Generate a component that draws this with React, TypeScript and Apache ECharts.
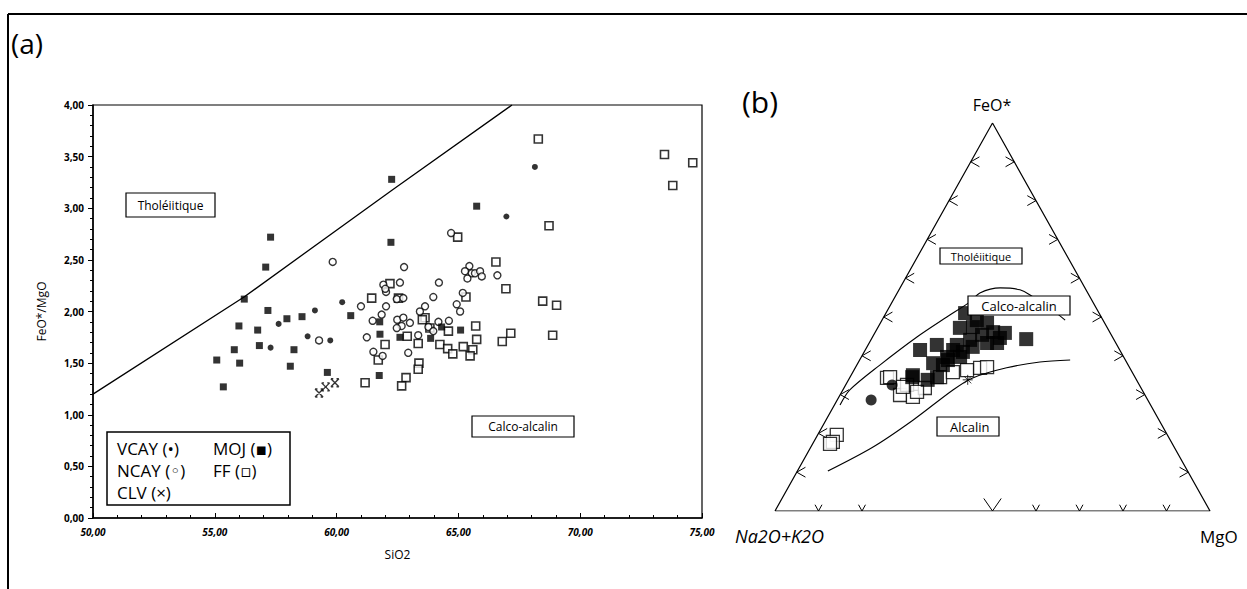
import React, { useEffect, useRef } from "react";
import * as echarts from "echarts";

// ---------- Panel (a): FeO*/MgO vs SiO2 ----------
const xTicksA = [50, 55, 60, 65, 70, 75];
const yTicksA = [0, 0.5, 1, 1.5, 2, 2.5, 3, 3.5, 4];

const tholSiO2 = [50, 56.2, 62.3, 67.2];
const tholRatio = [1.2, 2.14, 3.18, 4.0];

const vcayA = [
  [57.62, 1.88], [57.29, 1.65], [59.11, 2.01], [58.81, 1.76], [59.74, 1.72],
  [60.23, 2.09], [68.14, 3.4], [66.97, 2.92],
];
const ncayA = [
  [59.84, 2.48], [59.28, 1.72], [61.0, 2.05], [61.24, 1.75], [61.51, 1.61], [61.85, 1.97],
  [61.48, 1.91], [61.92, 2.26], [62.03, 2.19], [62.03, 2.05], [61.89, 1.57], [62.77, 2.43],
  [62.6, 2.28], [62.47, 2.12], [62.74, 2.13], [64.2, 2.28], [63.97, 2.14], [65.45, 2.44],
  [65.27, 2.39], [65.55, 2.37], [65.37, 2.32], [65.68, 2.37], [65.89, 2.39], [65.96, 2.34],
  [66.6, 2.35], [65.18, 2.18], [64.93, 2.07], [65.07, 2.0], [63.63, 2.05], [63.42, 2.0],
  [62.49, 1.92], [62.74, 1.94], [63.01, 1.89], [62.67, 1.86], [62.47, 1.84], [63.77, 1.85],
  [63.97, 1.81], [64.18, 1.9], [64.61, 1.91], [63.35, 1.77], [62.94, 1.6], [64.7, 2.76],
  [62.0, 2.22],
];
const mojA = [
  [57.09, 2.43], [57.29, 2.72], [56.21, 2.12], [57.18, 2.01], [55.99, 1.86], [56.76, 1.82],
  [57.96, 1.93], [58.58, 1.95], [55.8, 1.63], [56.83, 1.67], [55.08, 1.53], [56.02, 1.5],
  [58.25, 1.63], [58.1, 1.47], [55.35, 1.27], [59.62, 1.41], [60.58, 1.96], [61.77, 1.9],
  [61.78, 1.78], [61.75, 1.38], [62.26, 3.28], [62.23, 2.67], [65.75, 3.02], [65.09, 1.82],
  [64.31, 1.85], [62.6, 1.75], [63.86, 1.74],
];
const ffA = [
  [62.19, 2.27], [62.54, 2.13], [63.63, 1.94], [63.52, 1.92], [63.83, 1.84], [64.59, 1.81],
  [65.31, 2.14], [66.95, 2.22], [68.46, 2.1], [69.03, 2.06], [65.71, 1.86], [65.75, 1.73],
  [67.15, 1.79], [66.8, 1.71], [68.87, 1.77], [62.9, 1.76], [61.99, 1.68], [63.35, 1.69],
  [64.24, 1.68], [64.56, 1.64], [64.77, 1.59], [65.2, 1.66], [65.59, 1.63], [65.48, 1.57],
  [63.38, 1.5], [63.35, 1.44], [62.85, 1.36], [62.67, 1.28], [61.44, 2.13], [61.71, 1.53],
  [61.17, 1.31], [68.28, 3.67], [68.72, 2.83], [64.97, 2.72], [73.46, 3.52], [74.62, 3.44],
  [73.8, 3.22], [66.54, 2.48],
];
const clvA = [[59.28, 1.21], [59.55, 1.27], [59.93, 1.31]];

// ---------- Panel (b): AFM ternary, values as [Na2O+K2O, FeO*, MgO] ----------
const mojB = [
  [30.8, 51.0, 18.2], [33.9, 47.2, 18.9], [30.8, 47.4, 21.8], [26.8, 46.1, 27.1], [24.2, 45.9, 29.9],
  [20.1, 44.3, 35.6], [41.4, 42.8, 15.8], [45.9, 41.5, 12.6], [38.3, 41.5, 20.2], [33.4, 42.3, 24.3],
  [29.6, 43.3, 27.1], [27.3, 43.3, 29.4], [40.8, 38.9, 20.3], [37.6, 39.7, 22.7], [44.6, 38.1, 17.3],
  [50.8, 35.0, 14.2], [48.0, 33.8, 18.2], [29.0, 49.2, 21.8], [27.0, 48.5, 24.5], [29.7, 45.4, 24.9],
  [33.1, 44.1, 22.8], [36.8, 42.8, 20.4], [40.6, 39.7, 19.7], [36.3, 41.0, 22.7], [42.6, 37.6, 19.8],
  [51.2, 34.5, 14.3], [45.5, 34.5, 20.0], [26.0, 44.6, 29.4],
];
const ffB = [
  [57.1, 34.3, 8.6], [56.3, 29.9, 13.8], [53.6, 29.4, 17.0], [49.7, 31.7, 18.6], [44.8, 34.5, 20.7],
  [41.2, 35.8, 23.0], [37.7, 36.3, 26.0], [34.4, 36.9, 28.7], [32.7, 37.1, 30.2], [76.0, 19.6, 4.4],
  [77.8, 17.8, 4.4], [78.7, 17.3, 4.0], [53.4, 32.5, 14.1], [56.3, 34.5, 9.2], [54.6, 32.0, 13.4],
  [52.0, 30.7, 17.3],
];
const vcayB = [[63.6, 28.6, 7.8], [56.9, 32.5, 10.7]];
const clvB = [[38.8, 33.8, 27.4]];

const upperCurve = [
  [71.4, 27.3, 1.3], [67.2, 31.2, 1.6], [57.1, 37.6, 5.3], [44.9, 44.8, 10.2], [35.5, 50.0, 14.5],
  [28.2, 53.9, 17.9], [24.8, 56.2, 19.0], [19.5, 57.5, 23.0], [15.2, 57.0, 27.8], [13.1, 55.2, 31.7],
  [10.6, 52.3, 37.1], [8.7, 49.2, 42.1],
];
const lowerCurve = [
  [82.7, 10.3, 7.0], [69.2, 16.5, 14.3], [56.6, 23.4, 20.0], [43.5, 31.2, 25.3], [37.4, 34.3, 28.3],
  [28.3, 36.9, 34.8], [19.9, 38.4, 41.7], [12.7, 38.9, 48.4],
];
const sideTicks = [10, 20, 30, 40, 50, 60, 70, 80, 90];
const baseTicks = [10, 20, 50, 60, 70, 80, 90];

const H = Math.sqrt(3) / 2;
const toXY = (p: number[]) => {
  const s = p[0] + p[1] + p[2];
  const F = (p[1] / s) * 100;
  const M = (p[2] / s) * 100;
  return [M + F / 2, F * H];
};

const fmt = (v: number) => v.toFixed(2).replace(".", ",");
const FONT = '"Open Sans", "DejaVu Sans", sans-serif';

function buildOption() {
  const chevrons: number[][][] = [];
  baseTicks.forEach((t) => {
    const big = t === 50;
    const dx = big ? 2 : 0.8;
    const dy = big ? 2.8 : 1.4;
    chevrons.push([[t - dx, dy], [t, 0], [t + dx, dy]]);
  });
  sideTicks.forEach((t) => {
    const lx = t / 2, ly = t * H;
    chevrons.push([[lx + 2, ly + 1.1], [lx, ly], [lx + 2, ly - 1.1]]);
    const rx = 100 - t / 2, ry = t * H;
    chevrons.push([[rx - 2, ry + 1.1], [rx, ry], [rx - 2, ry - 1.1]]);
  });
  const tri = [[0, 0], [100, 0], [50, 100 * H], [0, 0]];

  const label = (x: number, y: number, w: number, h: number, text: string, size: number, tx?: number) => [
    { type: "rect", z: 100, shape: { x, y, width: w, height: h }, style: { fill: "#fff", stroke: "#000", lineWidth: 1.2 } },
    {
      type: "text", z: 101, x: tx !== undefined ? tx : x + w / 2, y: y + h / 2,
      style: { text, fill: "#000", font: `${size}px ${FONT}`, textAlign: tx !== undefined ? "left" : "center", textVerticalAlign: "middle" },
    },
  ];
  const txt = (x: number, y: number, text: string, size: number, align = "left", style = "normal") => ({
    type: "text", z: 101, x, y,
    style: { text, fill: "#000", font: `${style} ${size}px ${FONT}`, textAlign: align, textVerticalAlign: "middle" },
  });

  return {
    animation: false,
    backgroundColor: "#fff",
    textStyle: { fontFamily: FONT, color: "#000" },
    grid: [
      { left: 93, top: 105, width: 609, height: 413, show: true, borderColor: "#000", borderWidth: 1.2, backgroundColor: "transparent" },
      { left: 775, top: 123, width: 435, height: 388 },
    ],
    xAxis: [
      {
        gridIndex: 0, type: "value", min: xTicksA[0], max: xTicksA[xTicksA.length - 1], interval: 5,
        name: "SiO2", nameLocation: "middle", nameGap: 30,
        nameTextStyle: { fontSize: 12, color: "#000", fontFamily: FONT },
        axisLine: { lineStyle: { color: "#000", width: 1.5 } },
        axisTick: { inside: true, length: 5, lineStyle: { color: "#000" } },
        minorTick: { show: true, splitNumber: 5, length: 3, lineStyle: { color: "#000" } },
        splitLine: { show: false },
        axisLabel: { formatter: fmt, fontSize: 10, fontWeight: "bold", fontStyle: "italic", color: "#000", margin: 9 },
      },
      { gridIndex: 1, type: "value", min: 0, max: 100, show: false },
    ],
    yAxis: [
      {
        gridIndex: 0, type: "value", min: yTicksA[0], max: yTicksA[yTicksA.length - 1], interval: 0.5,
        name: "FeO*/MgO", nameLocation: "middle", nameGap: 46,
        nameTextStyle: { fontSize: 12, color: "#000", fontFamily: FONT },
        axisLine: { lineStyle: { color: "#000", width: 1.5 } },
        axisTick: { inside: false, length: 5, lineStyle: { color: "#000" } },
        minorTick: { show: true, splitNumber: 5, length: 3, lineStyle: { color: "#000" } },
        splitLine: { show: false },
        axisLabel: { formatter: fmt, fontSize: 10, fontWeight: "bold", color: "#000", margin: 9 },
      },
      { gridIndex: 1, type: "value", min: 0, max: 100 * H, show: false },
    ],
    series: [
      {
        type: "line", xAxisIndex: 0, yAxisIndex: 0, silent: true, symbol: "none",
        data: tholSiO2.map((x, i) => [x, tholRatio[i]]),
        lineStyle: { color: "#000", width: 1.3 },
      },
      {
        name: "FF", type: "scatter", xAxisIndex: 0, yAxisIndex: 0, data: ffA, symbol: "rect", symbolSize: 8,
        itemStyle: { color: "#fff", borderColor: "#000", borderWidth: 1.6 },
      },
      {
        name: "NCAY", type: "scatter", xAxisIndex: 0, yAxisIndex: 0, data: ncayA, symbol: "circle", symbolSize: 7,
        itemStyle: { color: "#fff", borderColor: "#000", borderWidth: 1.4 },
      },
      {
        name: "MOJ", type: "scatter", xAxisIndex: 0, yAxisIndex: 0, data: mojA, symbol: "rect", symbolSize: 7,
        itemStyle: { color: "#000" },
      },
      {
        name: "VCAY", type: "scatter", xAxisIndex: 0, yAxisIndex: 0, data: vcayA, symbol: "circle", symbolSize: 6,
        itemStyle: { color: "#000" },
      },
      {
        name: "CLV", type: "scatter", xAxisIndex: 0, yAxisIndex: 0, data: clvA,
        symbol: "path://M0,0L10,10M10,0L0,10M0,0L3,0M7,0L10,0M0,10L3,10M7,10L10,10", symbolSize: 8,
        itemStyle: { color: "transparent", borderColor: "#000", borderWidth: 1.4 },
      },
      // ternary frame
      {
        type: "line", xAxisIndex: 1, yAxisIndex: 1, silent: true, symbol: "none", data: tri,
        lineStyle: { color: "#000", width: 1.2 },
      },
      {
        type: "lines", coordinateSystem: "cartesian2d", xAxisIndex: 1, yAxisIndex: 1, polyline: true, silent: true,
        data: chevrons.map((c) => ({ coords: c })),
        lineStyle: { color: "#000", width: 1, opacity: 1 },
      },
      {
        type: "line", xAxisIndex: 1, yAxisIndex: 1, silent: true, symbol: "none", smooth: 0.3,
        data: upperCurve.map(toXY), lineStyle: { color: "#000", width: 1.1 },
      },
      {
        type: "line", xAxisIndex: 1, yAxisIndex: 1, silent: true, symbol: "none", smooth: 0.3,
        data: lowerCurve.map(toXY), lineStyle: { color: "#000", width: 1.1 },
      },
      {
        name: "FF b", type: "scatter", xAxisIndex: 1, yAxisIndex: 1, data: ffB.map(toXY), symbol: "rect", symbolSize: 13,
        itemStyle: { color: "#fff", borderColor: "#000", borderWidth: 1.3 },
      },
      {
        name: "MOJ b", type: "scatter", xAxisIndex: 1, yAxisIndex: 1, data: mojB.map(toXY), symbol: "rect", symbolSize: 14,
        itemStyle: { color: "#000" },
      },
      {
        name: "VCAY b", type: "scatter", xAxisIndex: 1, yAxisIndex: 1, data: vcayB.map(toXY), symbol: "circle", symbolSize: 11,
        itemStyle: { color: "#000" },
      },
      {
        name: "CLV b", type: "scatter", xAxisIndex: 1, yAxisIndex: 1, data: clvB.map(toXY),
        symbol: "path://M5,0L5,10M0,5L10,5M1.5,1.5L8.5,8.5M8.5,1.5L1.5,8.5", symbolSize: 10,
        itemStyle: { color: "transparent", borderColor: "#000", borderWidth: 1 },
      },
    ],
    graphic: [
      { type: "line", shape: { x1: 8, y1: 14, x2: 1247, y2: 14 }, style: { stroke: "#000", lineWidth: 2 } },
      { type: "line", shape: { x1: 8, y1: 14, x2: 8, y2: 589 }, style: { stroke: "#000", lineWidth: 2 } },
      txt(11, 43, "(a)", 28),
      txt(742, 101, "(b)", 30),
      ...label(126, 193, 89, 24, "Tholéiitique", 12),
      ...label(472, 416, 102, 21, "Calco-alcalin", 12),
      { type: "rect", z: 100, shape: { x: 107, y: 432, width: 183, height: 73 }, style: { fill: "#fff", stroke: "#000", lineWidth: 1.5 } },
      txt(117, 448, "VCAY (•)", 17),
      txt(213, 448, "MOJ (▪)", 17),
      txt(117, 470, "NCAY (◦)", 17),
      txt(213, 470, "FF (▫)", 17),
      txt(117, 492, "CLV (×)", 17),
      txt(992, 105, "FeO*", 16, "center"),
      txt(735, 536, "Na2O+K2O", 18, "left", "italic"),
      txt(1200, 536, "MgO", 17),
      ...label(940, 248, 82, 16, "Tholéiitique", 11),
      ...label(968, 296, 102, 19, "Calco-alcalin", 13),
      ...label(937, 417, 62, 19, "Alcalin", 13, 950),
    ],
  };
}

export default function App() {
  const ref = useRef<HTMLDivElement>(null);
  useEffect(() => {
    if (!ref.current) return;
    const chart = echarts.init(ref.current, null, { renderer: "svg" });
    chart.setOption(buildOption() as any);
    return () => chart.dispose();
  }, []);
  return (
    <div
      ref={ref}
      style={{ position: "fixed", left: 0, top: 0, width: 1247, height: 589, background: "#fff" }}
    />
  );
}
